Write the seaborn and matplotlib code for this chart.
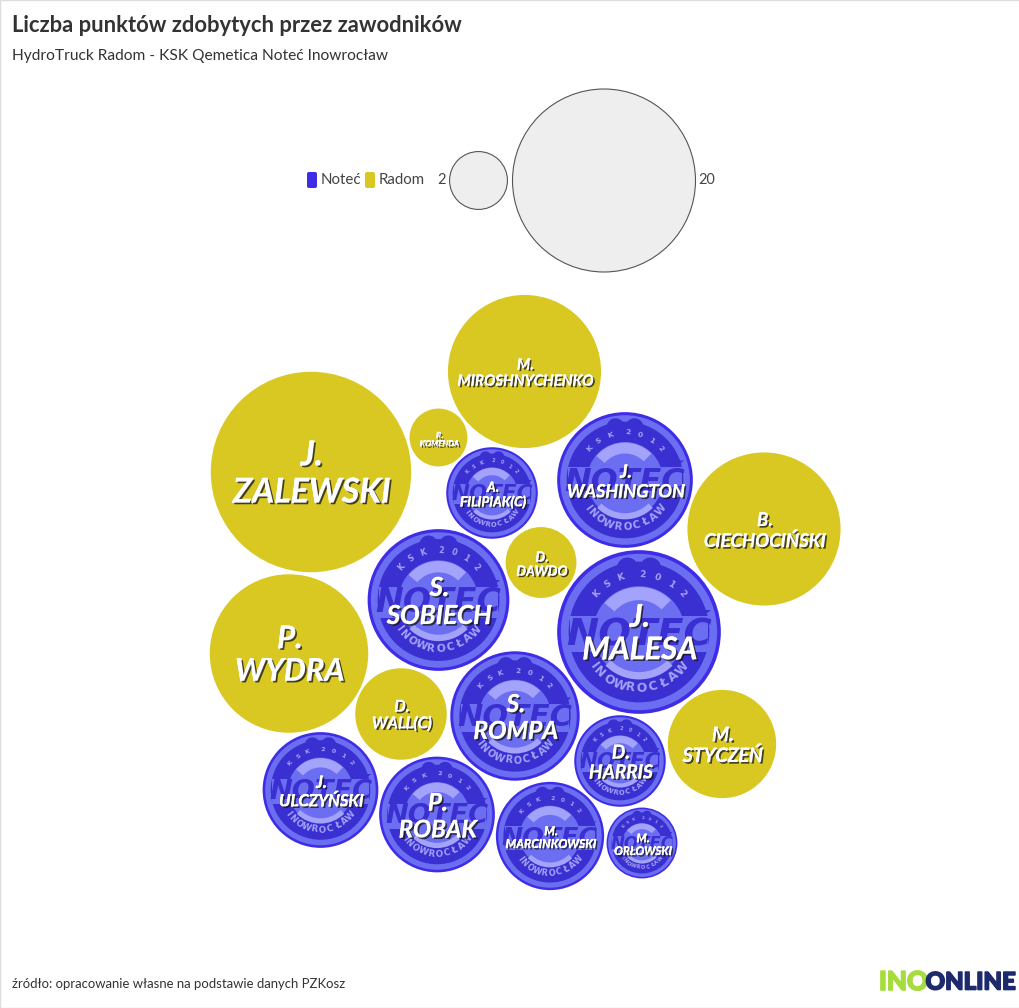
"""Liczba punktow zawodnikow - bubble chart."""

import numpy as np
import pandas as pd
import seaborn as sns
import matplotlib.pyplot as plt
import matplotlib.patheffects as pe
from matplotlib.patches import FancyBboxPatch, Rectangle, Wedge

players = ["J.\nZALEWSKI", "M.\nMIROSHNYCHENKO", "R.\nKOMENDA", "A.\nFILIPIAK(C)", "J.\nWASHINGTON",
           "B.\nCIECHOCIŃSKI", "S.\nSOBIECH", "D.\nDAWDO", "J.\nMALESA", "P.\nWYDRA", "D.\nWALL(C)",
           "S.\nROMPA", "M.\nSTYCZEŃ", "D.\nHARRIS", "J.\nULCZYŃSKI", "P.\nROBAK", "M.\nMARCINKOWSKI",
           "M.\nORŁOWSKI"]
teams = ["Radom", "Radom", "Radom", "Noteć", "Noteć", "Radom", "Noteć", "Radom", "Noteć", "Radom", "Radom",
         "Noteć", "Radom", "Noteć", "Noteć", "Noteć", "Noteć", "Noteć"]
points = [24, 14, 2, 5, 11, 14, 12, 3, 16, 15, 5, 10, 7, 5, 8, 8, 7, 3]
# packed layout of the bubbles
layout_x = [311, 524.5, 438.5, 492, 625, 764, 438.5, 541, 639, 289, 401, 515, 722, 620, 320.5, 437, 550, 642]
layout_y = [472, 371.5, 437.5, 493, 480, 529, 600, 562.5, 632, 653.5, 714, 716, 744, 761, 790, 814.5, 836, 843]
label_px = [34, 15, 8, 13.5, 18, 18.5, 26, 13.5, 31, 31, 16, 24.5, 19.5, 19, 16.5, 24, 12, 11.5]

legend_points = [2, 20]
legend_x = [478.5, 604]
legend_y = [180.5, 180.5]

PX = 72 / 100
R_PER_SQRT = 20.46
NOTEC = "#3f2ce6"
RADOM = "#d9c821"
DARK = "#3a2fd0"
LIGHT = "#6c6ef2"
PALE = "#a3a3fb"

sns.set_style("white")
plt.rcParams["font.family"] = ["Lato", "DejaVu Sans"]

df = pd.DataFrame({"player": players, "team": teams, "points": points, "x": layout_x, "y": layout_y, "px": label_px})
df_legend = pd.DataFrame({"points": legend_points, "x": legend_x, "y": legend_y})
df_notec = df[df["team"] == "Noteć"]
df_radom = df[df["team"] == "Radom"]

fig = plt.figure(figsize=(10.2, 10.08), dpi=100)
ax = fig.add_axes([0, 0, 1, 1])


def area(v, factor=1.0):
    return (2 * R_PER_SQRT * np.sqrt(v) * PX * factor) ** 2


def discs(data, color, factor=1.0, z=2):
    sns.scatterplot(data=data, x="x", y="y", size="points", size_norm=(2, 24),
                    sizes=(area(2, factor), area(24, factor)), color=color, linewidth=0,
                    legend=False, ax=ax, zorder=z, clip_on=False)


def curved(word, cx, cy, r, radius, start, stop, px, color, top):
    # one rotated letter per angle, angles in degrees counted from straight up
    widths = np.array([0.45 if ch in "I " else 1.0 for ch in word])
    steps = np.cumsum(widths) - widths / 2
    angles = start + (stop - start) * steps / widths.sum()
    for ch, a in zip(word, angles):
        t = np.radians(a)
        sign = 1 if top else -1
        ax.text(cx + radius * r * np.sin(t), cy - sign * radius * r * np.cos(t), ch,
                fontsize=px * r * PX, color=color, fontweight="bold", ha="center", va="center",
                rotation=-a if top else a, zorder=6, family="DejaVu Sans")


# team bubbles
discs(df_radom, RADOM)
discs(df_notec, NOTEC)
discs(df_notec, LIGHT, 0.955, 3)
discs(df_notec, DARK, 0.86, 3.1)
discs(df_notec, LIGHT, 0.56, 3.2)

# club badge on every Noteć bubble
for row in df_notec.itertuples():
    r = R_PER_SQRT * np.sqrt(row.points)
    cx, cy = row.x, row.y
    for dx in (-0.14, 0.14):
        ax.add_patch(Wedge((cx + dx * r, cy - 0.78 * r), 0.13 * r, 0, 360, color=DARK, lw=0, zorder=3.15))
    ax.add_patch(Wedge((cx, cy), 0.55 * r, 220, 315, width=0.16 * r, color=PALE, lw=0, zorder=3.3))
    ax.add_patch(Wedge((cx, cy), 0.58 * r, 45, 135, width=0.09 * r, color=PALE, lw=0, zorder=3.3))
    ax.add_patch(Rectangle((cx - 0.84 * r, cy - 0.19 * r), 1.68 * r, 0.44 * r, color=LIGHT, lw=0, zorder=3.4))
    ax.text(cx, cy + 0.03 * r, "NOTEĆ", fontsize=0.47 * r * PX, color=DARK, fontweight="bold", style="italic",
            ha="center", va="center", zorder=5, family="DejaVu Sans")
    curved("KSK 2012", cx, cy, r, 0.70, -56, 56, 0.11, PALE, True)
    curved("INOWROCŁAW", cx, cy, r, 0.69, -56, 56, 0.15, PALE, False)

# player labels
shadow = [pe.withStroke(linewidth=0.5, foreground="white"),
          pe.withSimplePatchShadow(offset=(1.2, -1.2), shadow_rgbFace="#111111", alpha=0.75)]
for row in df.itertuples():
    ax.text(row.x + 1, row.y + 2, row.player, fontsize=row.px * PX, color="white", fontweight="bold", style="italic",
            ha="center", va="center", linespacing=1.2, zorder=8, path_effects=shadow)

# size legend
sns.scatterplot(data=df_legend, x="x", y="y", size="points", size_norm=(2, 24), sizes=(area(2), area(24)),
                color="#eeeeee", edgecolor="#555555", linewidth=0.8, legend=False, ax=ax, zorder=2)
ax.text(446, 180, "2", fontsize=14.5 * PX, color="#444444", ha="right", va="center")
ax.text(698, 180, "20", fontsize=14.5 * PX, color="#444444", ha="left", va="center")

for x0, color, name in [(307, NOTEC, "Noteć"), (365, RADOM, "Radom")]:
    ax.add_patch(FancyBboxPatch((x0 + 2, 174), 6, 12, boxstyle="round,pad=2", color=color, lw=0))
    ax.text(x0 + 13.5, 180, name, fontsize=15 * PX, color="#444444", ha="left", va="center")

# header and footer
ax.text(12, 26, "Liczba punktów zdobytych przez zawodników", fontsize=22 * PX, fontweight="bold",
        color="#333333", ha="left", va="center")
ax.text(12, 56, "HydroTruck Radom - KSK Qemetica Noteć Inowrocław", fontsize=15.5 * PX, color="#333333",
        ha="left", va="center")
ax.text(12, 984, "źródło: opracowanie własne na podstawie danych PZKosz", fontsize=13.1 * PX, color="#333333",
        ha="left", va="center")
logo_fx = [pe.withStroke(linewidth=1.2, foreground="#1d2a6e")]
ax.text(879, 982, "INO", fontsize=26 * PX, fontweight="black", color="#a6dc3c", ha="left", va="center",
        path_effects=[pe.withStroke(linewidth=1.2, foreground="#a6dc3c")])
ax.text(1016, 982, "ONLINE", fontsize=24 * PX, fontweight="black", color="#1d2a6e", ha="right", va="center",
        path_effects=logo_fx)

ax.set_xlim(0, 1020)
ax.set_ylim(1008, 0)
ax.set_xlabel("")
ax.set_ylabel("")
ax.set_xticks([])
ax.set_yticks([])
for side in ax.spines.values():
    side.set_color("#dddddd")
    side.set_linewidth(1)

fig.savefig("out.png", dpi=100)
